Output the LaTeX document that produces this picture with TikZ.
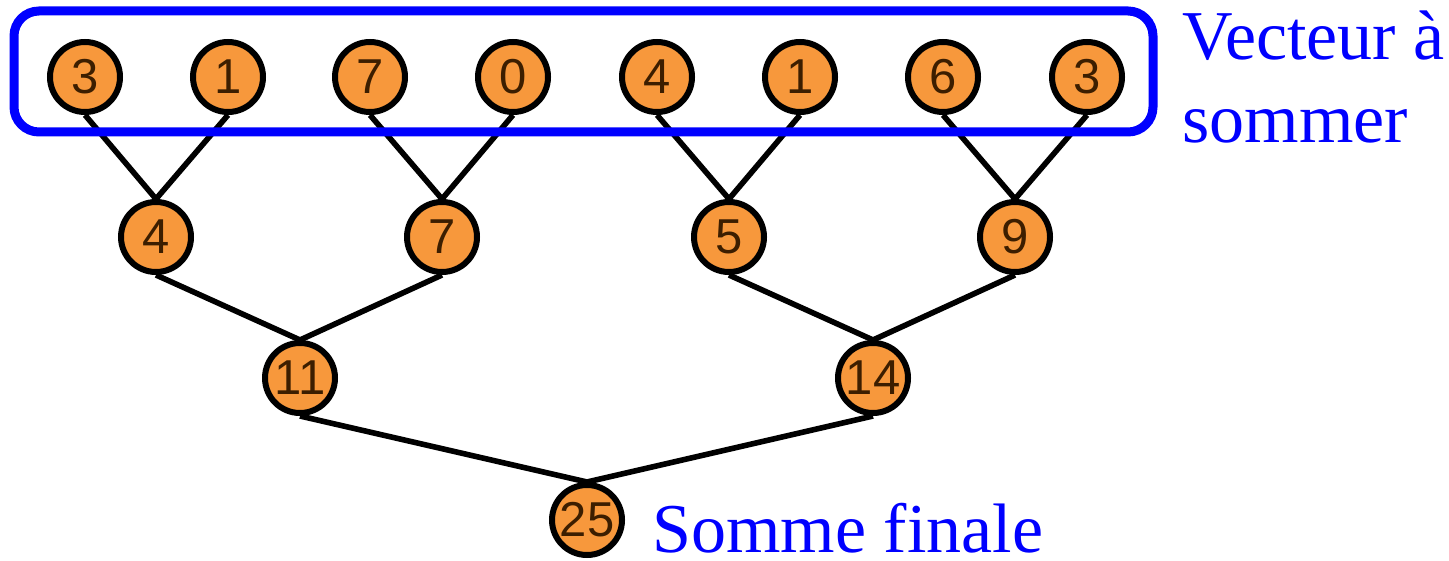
\documentclass[tikz,border=0pt]{standalone}
\usepackage{fontspec}
\setmainfont{Liberation Serif}
\setsansfont{Liberation Sans}
\usetikzlibrary{backgrounds}
\definecolor{leaf}{HTML}{F7983C}
\definecolor{digit}{HTML}{3C1E00}
\definecolor{frame}{HTML}{0000FF}

\begin{document}
\begin{tikzpicture}[
    x=0.5pt, y=-0.5pt,
    num/.style={circle, draw=black, line width=3pt, fill=leaf,
                minimum size=35pt, inner sep=0pt, text=digit,
                font=\sffamily\fontsize{24.5}{24.5}\selectfont},
    link/.style={line width=2.8pt},
    note/.style={font=\fontsize{35}{41.5}\selectfont, text=frame,
                 inner sep=0pt, align=left},
]
\useasboundingbox (0,0) rectangle (1449,561);

% Vector to be summed
\node[num] (v1) at (85,77)   {3};
\node[num] (v2) at (228,77)  {1};
\node[num] (v3) at (370,77)  {7};
\node[num] (v4) at (513,77)  {0};
\node[num] (v5) at (657,77)  {4};
\node[num] (v6) at (800,77)  {1};
\node[num] (v7) at (943,77)  {6};
\node[num] (v8) at (1087,77) {3};

% First level of partial sums
\node[num] (p1) at (156,237)  {4};
\node[num] (p2) at (442,237)  {7};
\node[num] (p3) at (729,237)  {5};
\node[num] (p4) at (1015,237) {9};

% Second level
\node[num] (q1) at (300,378) {11};
\node[num] (q2) at (873,378) {14};

% Root
\node[num] (root) at (587,520) {25};

% Frame round the input vector
\draw[frame, line width=4.5pt, rounded corners=12.5pt] (14,11) rectangle (1153,132);

% Labels (base anchor sits on the last line)
\node[note, anchor=base west] (vec) at (1182,143) {Vecteur à\\sommer};
\node[note, anchor=base west, text depth=0pt] (sum) at (652,552) {Somme finale};

% Reduction tree edges
\begin{scope}[on background layer]
    \draw[link] (v1.south) -- (p1.north) -- (v2.south);
    \draw[link] (v3.south) -- (p2.north) -- (v4.south);
    \draw[link] (v5.south) -- (p3.north) -- (v6.south);
    \draw[link] (v7.south) -- (p4.north) -- (v8.south);
    \draw[link] (p1.south) -- (q1.north) -- (p2.south);
    \draw[link] (p3.south) -- (q2.north) -- (p4.south);
    \draw[link] (q1.south) -- (root.north) -- (q2.south);
\end{scope}

\end{tikzpicture}
\end{document}
